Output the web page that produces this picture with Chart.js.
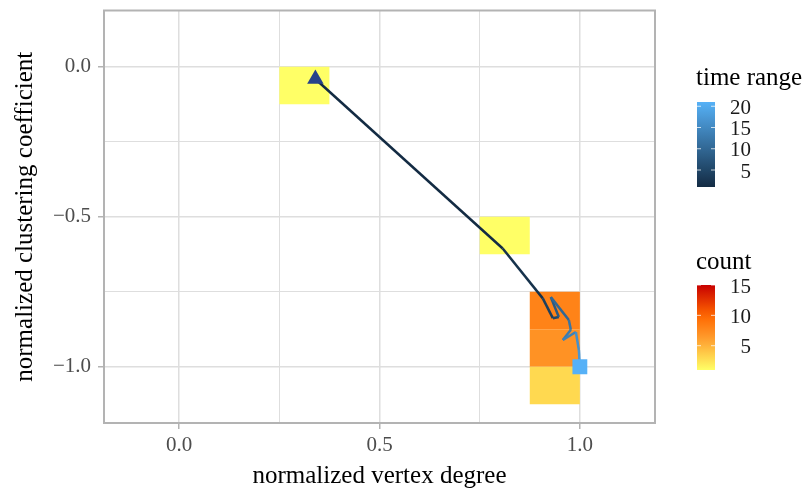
<!DOCTYPE html>
<html>
<head>
<meta charset="utf-8">
<script src="https://cdn.jsdelivr.net/npm/chart.js@4"></script>
<style>
  body { margin: 0; background: #fff; }
  #wrap { width: 808px; height: 493px; }
</style>
</head>
<body>
<div id="wrap"><canvas id="myChart" width="808" height="493"></canvas></div>
<script>
// trajectory: normalized vertex degree / clustering coefficient per time step
const pathX = [0.34, 0.8075, 0.9075, 0.9075, 0.9325, 0.9475, 0.9475, 0.9475, 0.9275, 0.9275,
               0.9725, 0.9725, 0.9775, 0.9575, 0.99, 0.99, 0.9975, 1.0, 1.0, 1.0, 1.0];
const pathY = [-0.041, -0.606, -0.772, -0.772, -0.838, -0.834, -0.834, -0.834, -0.768, -0.768,
               -0.844, -0.844, -0.877, -0.911, -0.884, -0.884, -0.944, -1.0, -1.0, -1.0, -1.0];
const pathTime = [1, 2, 3, 4, 5, 6, 7, 8, 9, 10, 11, 12, 13, 14, 15, 16, 17, 18, 19, 20, 21];

// 2d bins (centres) and their counts
const binX = [0.3125, 0.8125, 0.9375, 0.9375, 0.9375];
const binY = [-0.0625, -0.5625, -0.8125, -0.9375, -1.0625];
const binCount = [1, 1, 8, 7, 3];
const binSize = 0.125;

const xTicks = [0, 0.5, 1.0];
const yTicks = [0, -0.5, -1.0];
const timeLegendTicks = [5, 10, 15, 20];
const countLegendTicks = [5, 10, 15];
const timeRange = [1, 21];
const countRange = [1, 15];

const serif = "'Liberation Serif', serif";

function hexRgb(h) {
    return [parseInt(h.slice(1, 3), 16), parseInt(h.slice(3, 5), 16), parseInt(h.slice(5, 7), 16)];
}
function mix(a, b, t) {
    const A = hexRgb(a), B = hexRgb(b);
    return 'rgb(' + A.map((v, i) => Math.round(v + (B[i] - v) * t)).join(',') + ')';
}
function timeColor(t) {
    return mix('#132B43', '#56B1F7', (t - timeRange[0]) / (timeRange[1] - timeRange[0]));
}
const countStops = [[1, '#FFFF66'], [6, '#FFA030'], [10, '#FF6600'], [15, '#C80000']];
function countColor(c) {
    for (let i = 1; i < countStops.length; i++) {
        if (c <= countStops[i][0]) {
            const [c0, h0] = countStops[i - 1], [c1, h1] = countStops[i];
            return mix(h0, h1, (c - c0) / (c1 - c0));
        }
    }
    return countStops[countStops.length - 1][1];
}
function fmt(v) {
    return v < 0 ? '\u2212' + Math.abs(v).toFixed(1) : v.toFixed(1);
}

// tiles under the path
const tilePlugin = {
    id: 'tiles',
    beforeDatasetsDraw(chart) {
        const { ctx, chartArea, scales } = chart;
        ctx.save();
        ctx.beginPath();
        ctx.rect(chartArea.left, chartArea.top, chartArea.width, chartArea.height);
        ctx.clip();
        binX.forEach((bx, i) => {
            const x0 = scales.x.getPixelForValue(bx - binSize / 2);
            const x1 = scales.x.getPixelForValue(bx + binSize / 2);
            const y0 = scales.y.getPixelForValue(binY[i] + binSize / 2);
            const y1 = scales.y.getPixelForValue(binY[i] - binSize / 2);
            ctx.fillStyle = countColor(binCount[i]);
            ctx.fillRect(x0, y0, x1 - x0, y1 - y0);
        });
        ctx.restore();
    }
};

// panel border + colourbar legends
const framePlugin = {
    id: 'frame',
    afterDraw(chart) {
        const { ctx, chartArea } = chart;
        ctx.save();
        ctx.strokeStyle = '#B3B3B3';
        ctx.lineWidth = 2;
        ctx.strokeRect(chartArea.left, chartArea.top, chartArea.width, chartArea.height);

        function bar(title, titleY, top, bottom, range, ticks, colorFn) {
            const bx = 697, bw = 18;
            ctx.fillStyle = '#000';
            ctx.font = '25px ' + serif;
            ctx.textAlign = 'left';
            ctx.textBaseline = 'middle';
            ctx.fillText(title, bx - 1, titleY);
            const g = ctx.createLinearGradient(0, bottom, 0, top);
            for (let k = 0; k <= 10; k++) {
                const v = range[0] + (range[1] - range[0]) * k / 10;
                g.addColorStop(k / 10, colorFn(v));
            }
            ctx.fillStyle = g;
            ctx.fillRect(bx, top, bw, bottom - top);
            ctx.font = '21px ' + serif;
            ctx.textAlign = 'right';
            ticks.forEach(v => {
                const y = bottom - (v - range[0]) / (range[1] - range[0]) * (bottom - top);
                ctx.strokeStyle = 'rgba(255,255,255,0.75)';
                ctx.lineWidth = 1;
                ctx.beginPath();
                ctx.moveTo(bx, y); ctx.lineTo(bx + 4, y);
                ctx.moveTo(bx + bw - 4, y); ctx.lineTo(bx + bw, y);
                ctx.stroke();
                ctx.fillStyle = '#1A1A1A';
                ctx.fillText(String(v), 751, y + 2);
            });
        }
        bar('time range', 78, 102, 187, timeRange, timeLegendTicks, timeColor);
        bar('count', 262, 285, 370, countRange, countLegendTicks, countColor);
        ctx.restore();
    }
};

const points = pathX.map((x, i) => ({ x: x, y: pathY[i] }));
const last = points.length - 1;

const gridOpts = (majors) => ({
    color: '#DEDEDE',
    lineWidth: c => (c.tick && majors.includes(c.tick.value) ? 1.5 : 1),
    tickColor: c => (c.tick && majors.includes(c.tick.value) ? '#B3B3B3' : 'rgba(0,0,0,0)'),
    tickLength: 6,
    drawTicks: true
});

const ctx = document.getElementById('myChart').getContext('2d');
new Chart(ctx, {
    type: 'scatter',
    data: {
        datasets: [
            {
                type: 'line',
                data: points,
                showLine: true,
                pointRadius: 0,
                borderWidth: 2.5,
                tension: 0,
                borderColor: timeColor(1),
                segment: { borderColor: c => timeColor(pathTime[c.p0DataIndex]) },
                order: 3
            },
            {
                data: [points[0]],
                pointStyle: 'triangle',
                pointRadius: 9.5,
                backgroundColor: '#27428A',
                borderWidth: 0,
                order: 2
            },
            {
                data: [points[last]],
                pointStyle: 'rect',
                pointRadius: 10.5,
                backgroundColor: timeColor(pathTime[last]),
                borderWidth: 0,
                order: 1
            }
        ]
    },
    options: {
        responsive: false,
        animation: false,
        layout: { padding: { top: 9, right: 153, left: 0, bottom: 0 } },
        plugins: { legend: { display: false }, tooltip: { enabled: false } },
        scales: {
            x: {
                type: 'linear',
                min: -0.1875,
                max: 1.1875,
                afterBuildTicks: s => { s.ticks = [0, 0.25, 0.5, 0.75, 1].map(v => ({ value: v })); },
                afterFit: s => { s.height = 70; s.paddingLeft = 0; s.paddingRight = 0; },
                border: { display: false },
                grid: gridOpts(xTicks),
                ticks: {
                    autoSkip: false, maxRotation: 0, padding: 4,
                    color: '#4D4D4D', font: { family: serif, size: 21 },
                    callback: v => (xTicks.includes(v) ? fmt(v) : '')
                },
                title: {
                    display: true, text: 'normalized vertex degree', color: '#000',
                    font: { family: serif, size: 25 }, padding: { top: 2, bottom: 2 }
                }
            },
            y: {
                type: 'linear',
                min: -1.1875,
                max: 0.1875,
                afterBuildTicks: s => { s.ticks = [0, -0.25, -0.5, -0.75, -1].map(v => ({ value: v })); },
                afterFit: s => { s.width = 104; s.paddingTop = 0; s.paddingBottom = 0; },
                border: { display: false },
                grid: gridOpts(yTicks),
                ticks: {
                    autoSkip: false, padding: 7,
                    color: '#4D4D4D', font: { family: serif, size: 21 },
                    callback: v => (yTicks.includes(v) ? fmt(v) : '')
                },
                title: {
                    display: true, text: 'normalized clustering coefficient', color: '#000',
                    font: { family: serif, size: 25 }, padding: { top: 10, bottom: 0 }
                }
            }
        }
    },
    plugins: [tilePlugin, framePlugin]
});
</script>
</body>
</html>
